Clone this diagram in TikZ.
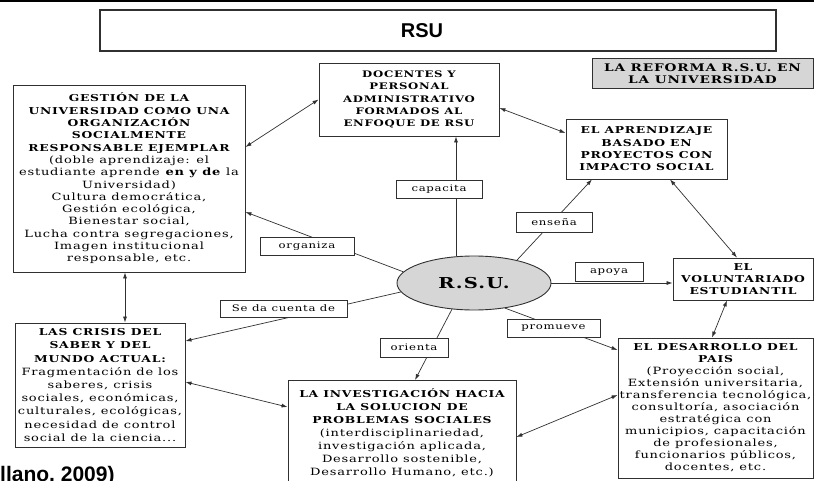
\documentclass[tikz,border=0pt]{standalone}
\usepackage{fontspec}
\setmainfont{DejaVu Serif}[FakeStretch=1.3, LetterSpace=8]
\newfontfamily\titlefont{Liberation Sans}
\usetikzlibrary{arrows.meta, shapes.geometric, positioning, calc}
\definecolor{rsuGrey}{HTML}{D6D6D6}
\definecolor{rsuLine}{HTML}{303030}
\newcommand{\cabfont}{\fontsize{9.5}{12.3}\selectfont\bfseries}
\newcommand{\textofont}{\fontsize{10}{12.3}\selectfont\mdseries}
\newcommand{\cab}[1]{{\cabfont #1}}
\tikzset{
  box/.style      = {draw=rsuLine, line width=0.9pt, fill=white, align=center,
                     inner sep=3pt, font=\textofont},
  tag/.style      = {draw=rsuLine, line width=0.7pt, fill=white, inner sep=0pt,
                     font=\fontsize{9}{11}\selectfont},
  link/.style     = {-{Latex[length=6pt,width=4pt]}, line width=0.7pt, rsuLine},
  duallink/.style = {{Latex[length=6pt,width=4pt]}-{Latex[length=6pt,width=4pt]},
                     line width=0.7pt, rsuLine},
}

\begin{document}
\begin{tikzpicture}[x=1pt, y=-1pt]
  \useasboundingbox (0,0) rectangle (814,481);
  \clip (0,0) rectangle (814,481);
  \draw[line width=2.2pt, black] (0,1) -- (814,1);
  % title
  \node[draw=rsuLine, line width=1.2pt, minimum width=676pt, minimum height=41pt,
        font=\titlefont\bfseries\fontsize{20}{24}\selectfont] (titulo) at (438,30.5)
        {\hspace*{-32pt}RSU};
  \node[draw=rsuLine, fill=rsuGrey, line width=0.7pt, minimum width=221pt,
        minimum height=30pt, align=center, inner sep=1pt,
        font=\fontsize{10.5}{12}\selectfont\bfseries] (reforma)
        at (702.5,73.5) {LA REFORMA R.S.U. EN\\LA UNIVERSIDAD};
  % the boxes around the centre
  \node[box, minimum width=180pt, minimum height=73pt,
        font=\fontsize{9}{12.3}\selectfont\bfseries] (docentes) at (409,99.5)
    {DOCENTES Y\\PERSONAL\\ADMINISTRATIVO\\FORMADOS AL\\ENFOQUE DE RSU};
  \node[box, minimum width=232pt, minimum height=187pt] (gestion) at (129,178.5)
    {\cab{GESTIÓN DE LA}\\\cab{UNIVERSIDAD COMO UNA}\\\cab{ORGANIZACIÓN}\\
     \cab{SOCIALMENTE}\\\cab{RESPONSABLE EJEMPLAR}\\
     (doble aprendizaje: el\\estudiante aprende \textbf{en y de} la\\Universidad)\\
     Cultura democrática,\\Gestión ecológica,\\Bienestar social,\\Lucha contra segregaciones,\\
     Imagen institucional\\responsable, etc.};
  \node[box, minimum width=161pt, minimum height=60pt, font=\cabfont] (aprendizaje) at (646.5,149)
    {EL APRENDIZAJE\\BASADO EN\\PROYECTOS CON\\IMPACTO SOCIAL};
  \node[box, minimum width=140pt, minimum height=42pt, inner sep=1pt, font=\cabfont] (voluntariado)
    at (743,279) {EL\\VOLUNTARIADO\\ESTUDIANTIL};
  \node[box, minimum width=170pt, minimum height=124pt,
        font=\fontsize{10}{13.2}\selectfont] (crisis) at (100,385)
    {\cab{LAS CRISIS DEL}\\\cab{SABER Y DEL}\\\cab{MUNDO ACTUAL:}\\
     Fragmentación de los\\saberes, crisis\\sociales, económicas,\\
     culturales, ecológicas,\\necesidad de control\\social de la ciencia...};
  \node[box, anchor=north, minimum width=228pt, minimum height=104pt, inner ysep=5pt,
        font=\fontsize{10}{13}\selectfont] (investigacion) at (402,380)
    {\cab{LA INVESTIGACIÓN HACIA}\\\cab{LA SOLUCION DE}\\\cab{PROBLEMAS SOCIALES}\\
     (interdisciplinariedad,\\investigación aplicada,\\Desarrollo sostenible,\\
     Desarrollo Humano, etc.)};
  \node[box, minimum width=195pt, minimum height=140pt, inner sep=1pt,
        font=\fontsize{10}{12}\selectfont] (desarrollo) at (715.5,408)
    {\cab{EL DESARROLLO DEL}\\\cab{PAIS}\\
     (Proyección social,\\Extensión universitaria,\\transferencia tecnológica,\\
     consultoría, asociación\\estratégica con\\municipios, capacitación\\
     de profesionales,\\funcionarios públicos,\\docentes, etc.};
  % centre
  \node[ellipse, draw=rsuLine, fill=rsuGrey, line width=0.9pt, minimum width=154pt,
        minimum height=54pt, inner sep=0pt,
        font=\bfseries\fontsize{15}{18}\selectfont] (rsu) at (474,283) {R.S.U.};
  % links between the boxes
  \draw[duallink] ([yshift=31.5pt]gestion.east) -- (docentes.west);
  \draw[duallink] ([yshift=-8.5pt]docentes.east) -- ([yshift=16pt]aprendizaje.west);
  \draw[duallink] ([xshift=23.5pt]aprendizaje.south) -- ([xshift=-6pt]voluntariado.north);
  \draw[duallink] ([xshift=-16pt]voluntariado.south) -- ([xshift=-3.5pt]desarrollo.north);
  \draw[duallink] ([yshift=13pt]desarrollo.west) -- ([yshift=-57pt]investigacion.north east);
  \draw[duallink] ([yshift=3pt]crisis.east) -- ([yshift=-27pt]investigacion.north west);
  \draw[duallink] ([xshift=-4pt]gestion.south) -- ([xshift=-4pt]gestion.south |- crisis.north);
  % links out of R.S.U.
  \draw[link] (rsu.124) -- (rsu.124 |- docentes.south);
  \draw[link] (rsu.171) -- ([yshift=-33.5pt]gestion.east);
  \draw[link] (rsu.187) -- ([yshift=44pt]crisis.east);
  \draw[link] (rsu.230) -- ([xshift=13pt]investigacion.north);
  \draw[link] (rsu.321) -- ([yshift=58pt]desarrollo.west);
  \draw[link] (rsu.east) -- (rsu.east -| voluntariado.west);
  \draw[link] (rsu.28) -- ([xshift=-54.5pt]aprendizaje.south);
  % verbs on the links
  \node[tag, minimum width=86pt, minimum height=18pt] (capacita) at (439,189) {capacita};
  \node[tag, minimum width=94pt, minimum height=18pt] (organiza) at (307,246) {organiza};
  \node[tag, minimum width=127pt, minimum height=17pt] (seda) at (283.5,308.5) {Se da cuenta de};
  \node[tag, minimum width=68pt, minimum height=19pt] (orienta) at (414,347.5) {orienta};
  \node[tag, minimum width=93pt, minimum height=18pt] (promueve) at (553.5,328) {promueve};
  \node[tag, minimum width=68pt, minimum height=19pt, anchor=south] (apoya) at (609,282) {apoya};
  \node[tag, minimum width=76pt, minimum height=20pt] (ensena) at (554,222) {enseña};
  % source, cut at the bottom
  \node[anchor=north west, inner sep=0pt, font=\titlefont\bfseries\fontsize{21}{24}\selectfont]
    (fuente) at (0,466) {llano, 2009)};
\end{tikzpicture}
\end{document}
